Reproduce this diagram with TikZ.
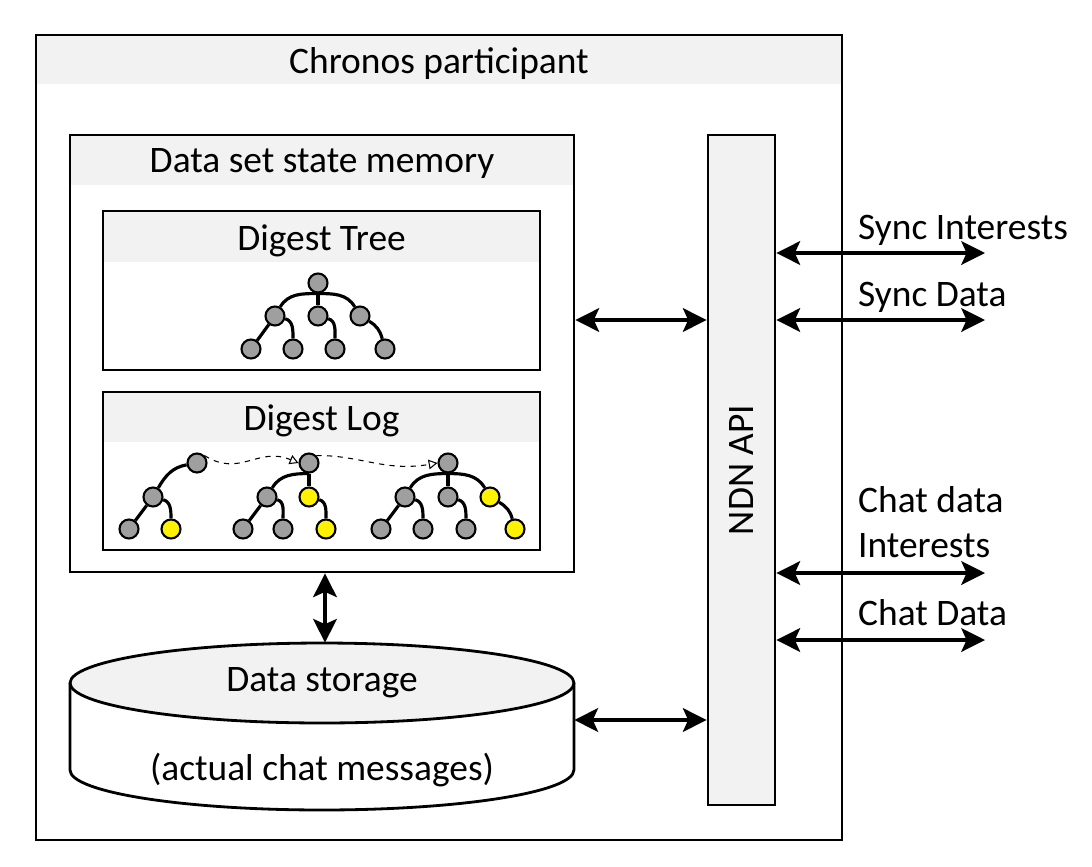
\documentclass[tikz,border=0pt]{standalone}
\usepackage{fontspec}
\setmainfont{Carlito}
\usetikzlibrary{positioning,fit,arrows.meta}
\definecolor{bandgray}{HTML}{F2F2F2}

\begin{document}
\begin{tikzpicture}[x=0.02cm,y=-0.02cm,
		font=\fontsize{21.3}{26}\selectfont,
		box/.style={draw,line width=1.6pt,inner sep=0pt},
		band/.style={fill=bandgray,inner sep=0pt},
		title/.style={yshift=-2.2pt},
		leaf/.style={circle,draw,line width=1.2pt,fill=gray!75,minimum size=0.38cm,
			inner sep=0pt},
		newleaf/.style={leaf,fill=yellow},
		branch/.style={line width=1.8pt},
		link/.style={{Stealth[length=13.5pt,width=13.5pt,inset=3pt]}-{Stealth[length=13.5pt,
			width=13.5pt,inset=3pt]},line width=1.8pt},
		loglink/.style={-{Triangle[open,length=5pt,width=5.5pt]},dashed,line width=0.6pt}]
		\useasboundingbox (0,0) rectangle (1092,866);

		% header bands
		\node (participanthead) [band,fit={(36,35) (842,84)}] {};
		\node (memoryhead) [band,fit={(70,135) (574,185)}] {};
		\node (treehead) [band,fit={(103,211) (540,262)}] {};
		\node (loghead) [band,fit={(103,392) (540,442)}] {};
		\node (participanttitle) [title] at (participanthead.center) {Chronos participant};
		\node (memorytitle) [title] at (memoryhead.center) {Data set state memory};
		\node (treetitle) [title] at (treehead.center) {Digest Tree};
		\node (logtitle) [title] at (loghead.center) {Digest Log};

		% boxes
		\node (participant) [box,fit={(36,35) (842,840)}] {};
		\node (memory) [box,fit={(70,135) (574,572)}] {};
		\node (digesttree) [box,fit={(103,211) (540,370)}] {};
		\node (digestlog) [box,fit={(103,392) (540,550)}] {};
		\node (api) [box,fill=bandgray,fit={(708,135) (775,805)}] {};
		\node (apilabel) [rotate=90] at (api.center) {NDN API};

		% data storage
		\node (storage) [inner sep=0pt,fit={(70,643) (574,810)}] {};
		\draw[line width=1.6pt,fill=white] (70,683) -- (70,770)
			arc[start angle=180,end angle=360,x radius=5.04cm,y radius=0.8cm]
			-- (574,683);
		\draw[line width=1.6pt,fill=bandgray] (322,683) ellipse [x radius=5.04cm,
			y radius=0.8cm];
		\node (storagetitle) at (322,683) {Data storage};
		\node (storagenote) at (322,770) {(actual chat messages)};

		% digest tree
		\node (t0) [leaf] at (318,283) {};
		\node (t1) [leaf] at (275,316) {};
		\node (t2) [leaf] at (318,316) {};
		\node (t3) [leaf] at (360,316) {};
		\node (t4) [leaf] at (251,349) {};
		\node (t5) [leaf] at (293,349) {};
		\node (t6) [leaf] at (335,349) {};
		\node (t7) [leaf] at (385,349) {};
		\draw[branch] (t0.south) to[out=180,in=60] (t1);
		\draw[branch] (t0) -- (t2);
		\draw[branch] (t0.south) to[out=0,in=120] (t3);
		\draw[branch] (t1) -- (t4);
		\draw[branch] (t1) to[out=-15,in=90] (t5);
		\draw[branch] (t2) to[out=-15,in=90] (t6);
		\draw[branch] (t3) to[out=-30,in=105] (t7);

		% digest log
		\node (a0) [leaf] at (197,463) {};
		\node (a1) [leaf] at (153,497) {};
		\node (a2) [leaf] at (129,529) {};
		\node (a3) [newleaf] at (171,529) {};
		\draw[branch] (a0) to[out=190,in=60] (a1);
		\draw[branch] (a1) -- (a2);
		\draw[branch] (a1) to[out=-15,in=90] (a3);

		\node (b0) [leaf] at (309,463) {};
		\node (b1) [leaf] at (267,497) {};
		\node (b2) [newleaf] at (309,497) {};
		\node (b3) [leaf] at (243,529) {};
		\node (b4) [leaf] at (283,529) {};
		\node (b5) [newleaf] at (326,529) {};
		\draw[branch] (b0.south) to[out=180,in=60] (b1);
		\draw[branch] (b0) -- (b2);
		\draw[branch] (b1) -- (b3);
		\draw[branch] (b1) to[out=-15,in=90] (b4);
		\draw[branch] (b2) to[out=-15,in=90] (b5);

		\node (c0) [leaf] at (448,463) {};
		\node (c1) [leaf] at (405,497) {};
		\node (c2) [leaf] at (448,497) {};
		\node (c3) [newleaf] at (490,497) {};
		\node (c4) [leaf] at (381,529) {};
		\node (c5) [leaf] at (423,529) {};
		\node (c6) [leaf] at (466,529) {};
		\node (c7) [newleaf] at (515,529) {};
		\draw[branch] (c0.south) to[out=180,in=60] (c1);
		\draw[branch] (c0) -- (c2);
		\draw[branch] (c0.south) to[out=0,in=120] (c3);
		\draw[branch] (c1) -- (c4);
		\draw[branch] (c1) to[out=-15,in=90] (c5);
		\draw[branch] (c2) to[out=-15,in=90] (c6);
		\draw[branch] (c3) to[out=-30,in=105] (c7);

		\draw[loglink] (a0.north east) .. controls (240,478) and (258,446) .. (b0.west);
		\draw[loglink] (b0.north east) .. controls (360,455) and (385,472) .. (c0.west);

		% outside labels
		\coordinate (syncintend) at (985,253);
		\coordinate (syncdataend) at (985,320);
		\coordinate (chatintend) at (985,573);
		\coordinate (chatdataend) at (985,640);
		\node (syncint) [anchor=base west] at (852,239) {Sync Interests};
		\node (syncdata) [anchor=base west] at (852,306) {Sync Data};
		\node (chatint) [anchor=west,align=left] at (852,522) {Chat data\\Interests};
		\node (chatdata) [anchor=base west] at (852,625) {Chat Data};

		% connect the parts
		\draw[link] (memory.east |- 0,320) -- (api.west |- 0,320);
		\draw[link] (storage.east |- 0,720) -- (api.west |- 0,720);
		\draw[link] (memory.south -| 325,0) -- (storage.north -| 325,0);
		\draw[link] (api.east |- syncintend) -- (syncintend);
		\draw[link] (api.east |- syncdataend) -- (syncdataend);
		\draw[link] (api.east |- chatintend) -- (chatintend);
		\draw[link] (api.east |- chatdataend) -- (chatdataend);

	\end{tikzpicture}
\end{document}
